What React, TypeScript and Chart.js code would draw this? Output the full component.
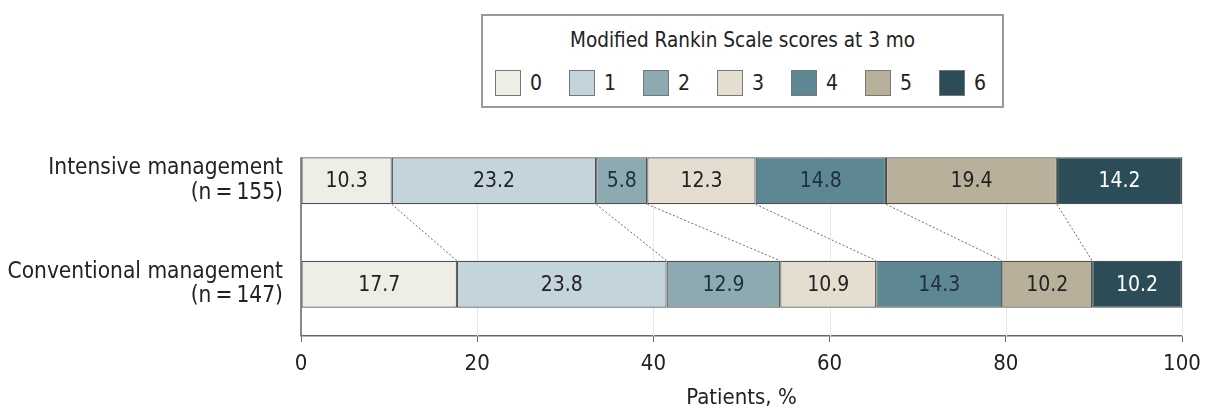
import React, { useEffect, useRef } from 'react';
import { Chart, registerables } from 'chart.js';

Chart.register(...registerables);

// ---- data ----
const categories = [
  ['Intensive management', '(n\u2009=\u2009155)'],
  ['Conventional management', '(n\u2009=\u2009147)'],
];
const scoreLabels = ['0', '1', '2', '3', '4', '5', '6'];
const intensive = [10.3, 23.2, 5.8, 12.3, 14.8, 19.4, 14.2];
const conventional = [17.7, 23.8, 12.9, 10.9, 14.3, 10.2, 10.2];
const xTicks = [0, 20, 40, 60, 80, 100];
const legendTitle = 'Modified Rankin Scale scores at 3 mo';
const axisTitle = 'Patients, %';

// ---- styles ----
const colors = ['#eeeee7', '#c3d4dc', '#8daab3', '#e4ddd0', '#5d8792', '#b9b09b', '#2c4d58'];
const valueColors = ['#222', '#222', '#1d2f3a', '#222', '#1d2f3a', '#222', '#ffffff'];
const FONT = "'DejaVu Sans Condensed', 'DejaVu Sans', sans-serif";
const TEXT = '#222';

const gridPlugin = {
  id: 'softGrid',
  beforeDatasetsDraw(chart: any) {
    const ctx = chart.ctx;
    const x = chart.scales.x;
    const first = chart.getDatasetMeta(0).data[0];
    const top = first.y - first.height / 2;
    const ca = chart.chartArea;
    ctx.save();
    ctx.strokeStyle = '#e9e9e9';
    ctx.lineWidth = 1;
    xTicks.forEach((v) => {
      const px = Math.round(x.getPixelForValue(v)) + 0.5;
      ctx.beginPath();
      ctx.moveTo(px, top);
      ctx.lineTo(px, ca.bottom);
      ctx.stroke();
    });
    ctx.restore();
  },
};

const valueLabelPlugin = {
  id: 'valueLabels',
  afterDatasetsDraw(chart: any) {
    const ctx = chart.ctx;
    ctx.save();
    ctx.font = `21px ${FONT}`;
    ctx.textAlign = 'center';
    ctx.textBaseline = 'middle';
    chart.data.datasets.forEach((ds: any, di: number) => {
      const meta = chart.getDatasetMeta(di);
      meta.data.forEach((el: any, i: number) => {
        const v = ds.data[i];
        ctx.fillStyle = valueColors[di];
        ctx.fillText(v.toFixed(1), (el.x + el.base) / 2, el.y + 1);
      });
    });
    ctx.restore();
  },
};

const connectorPlugin = {
  id: 'connectors',
  afterDatasetsDraw(chart: any) {
    const ctx = chart.ctx;
    const n = chart.data.datasets.length;
    ctx.save();
    ctx.strokeStyle = '#6a6a6a';
    ctx.lineWidth = 1;
    ctx.setLineDash([2, 2]);
    for (let di = 0; di < n - 1; di++) {
      const meta = chart.getDatasetMeta(di);
      const top = meta.data[0];
      const bot = meta.data[1];
      ctx.beginPath();
      ctx.moveTo(top.x, top.y + top.height / 2);
      ctx.lineTo(bot.x, bot.y - bot.height / 2);
      ctx.stroke();
    }
    ctx.setLineDash([]);
    const first = chart.getDatasetMeta(0).data[0];
    const ca = chart.chartArea;
    ctx.strokeStyle = '#666';
    ctx.lineWidth = 1.5;
    ctx.beginPath();
    ctx.moveTo(ca.left, first.y - first.height / 2);
    ctx.lineTo(ca.left, ca.bottom);
    ctx.stroke();
    ctx.restore();
  },
};

export default function App() {
  const ref = useRef<HTMLCanvasElement | null>(null);

  useEffect(() => {
    document.body.style.margin = '0';
    if (!ref.current) return;
    const chart = new Chart(ref.current, {
      type: 'bar',
      data: {
        labels: categories as any,
        datasets: scoreLabels.map((s, i) => ({
          label: s,
          data: [intensive[i], conventional[i]],
          backgroundColor: colors[i],
          borderColor: '#505050',
          borderWidth: 1.2,
          borderSkipped: false,
          barPercentage: 0.455,
          categoryPercentage: 1,
        })),
      },
      options: {
        indexAxis: 'y',
        animation: false,
        responsive: false,
        maintainAspectRatio: false,
        layout: { padding: { top: 129, right: 23, left: 0, bottom: 0 } },
        plugins: {
          legend: { display: false },
          tooltip: { enabled: false },
        },
        scales: {
          x: {
            type: 'linear',
            stacked: true,
            min: 0,
            max: 100,
            afterBuildTicks: (s: any) => {
              s.ticks = xTicks.map((v) => ({ value: v }));
            },
            afterFit: (s: any) => {
              s.height = 73;
              s.paddingLeft = 0;
              s.paddingRight = 0;
            },
            grid: {
              color: 'rgba(0,0,0,0)',
              tickColor: '#666',
              tickLength: 6,
              lineWidth: 1,
            },
            border: { display: true, color: '#666', width: 1.5 },
            ticks: {
              color: TEXT,
              font: { family: FONT, size: 22 },
              padding: 9,
              maxRotation: 0,
            },
            title: {
              display: true,
              text: axisTitle,
              color: TEXT,
              font: { family: FONT, size: 22, lineHeight: 1.0 },
              padding: { top: 0, bottom: 0 },
            },
          },
          y: {
            type: 'category',
            stacked: true,
            afterFit: (s: any) => {
              s.width = 301;
              s.paddingTop = 0;
              s.paddingBottom = 0;
            },
            grid: { display: false, drawTicks: false },
            border: { display: false },
            ticks: {
              color: TEXT,
              font: { family: FONT, size: 22.5, lineHeight: 1.1 },
              padding: 18,
            },
          },
        },
      },
      plugins: [gridPlugin, connectorPlugin, valueLabelPlugin],
    });
    return () => chart.destroy();
  }, []);

  return (
    <div style={{ position: 'relative', width: 1205, height: 409, fontFamily: FONT, color: TEXT }}>
      <canvas ref={ref} width={1205} height={409} style={{ width: 1205, height: 409, display: 'block' }} />
      <div
        style={{
          position: 'absolute',
          left: 481,
          top: 14,
          width: 523,
          height: 94,
          border: '2px solid #9a9a9a',
          boxSizing: 'border-box',
          background: '#fff',
        }}
      >
        <div
          style={{
            position: 'absolute',
            top: 11,
            left: 0,
            width: '100%',
            textAlign: 'center',
            fontSize: 20.5,
            lineHeight: '26px',
            whiteSpace: 'nowrap',
          }}
        >
          {legendTitle}
        </div>
        {scoreLabels.map((s, i) => (
          <div
            key={s}
            style={{
              position: 'absolute',
              left: 12 + i * 74,
              top: 54,
              display: 'flex',
              alignItems: 'center',
              height: 26,
            }}
          >
            <div
              style={{
                width: 26,
                height: 26,
                boxSizing: 'border-box',
                background: colors[i],
                border: '1px solid #777',
              }}
            />
            <span style={{ marginLeft: 9, fontSize: 21, lineHeight: '26px' }}>{s}</span>
          </div>
        ))}
      </div>
    </div>
  );
}
